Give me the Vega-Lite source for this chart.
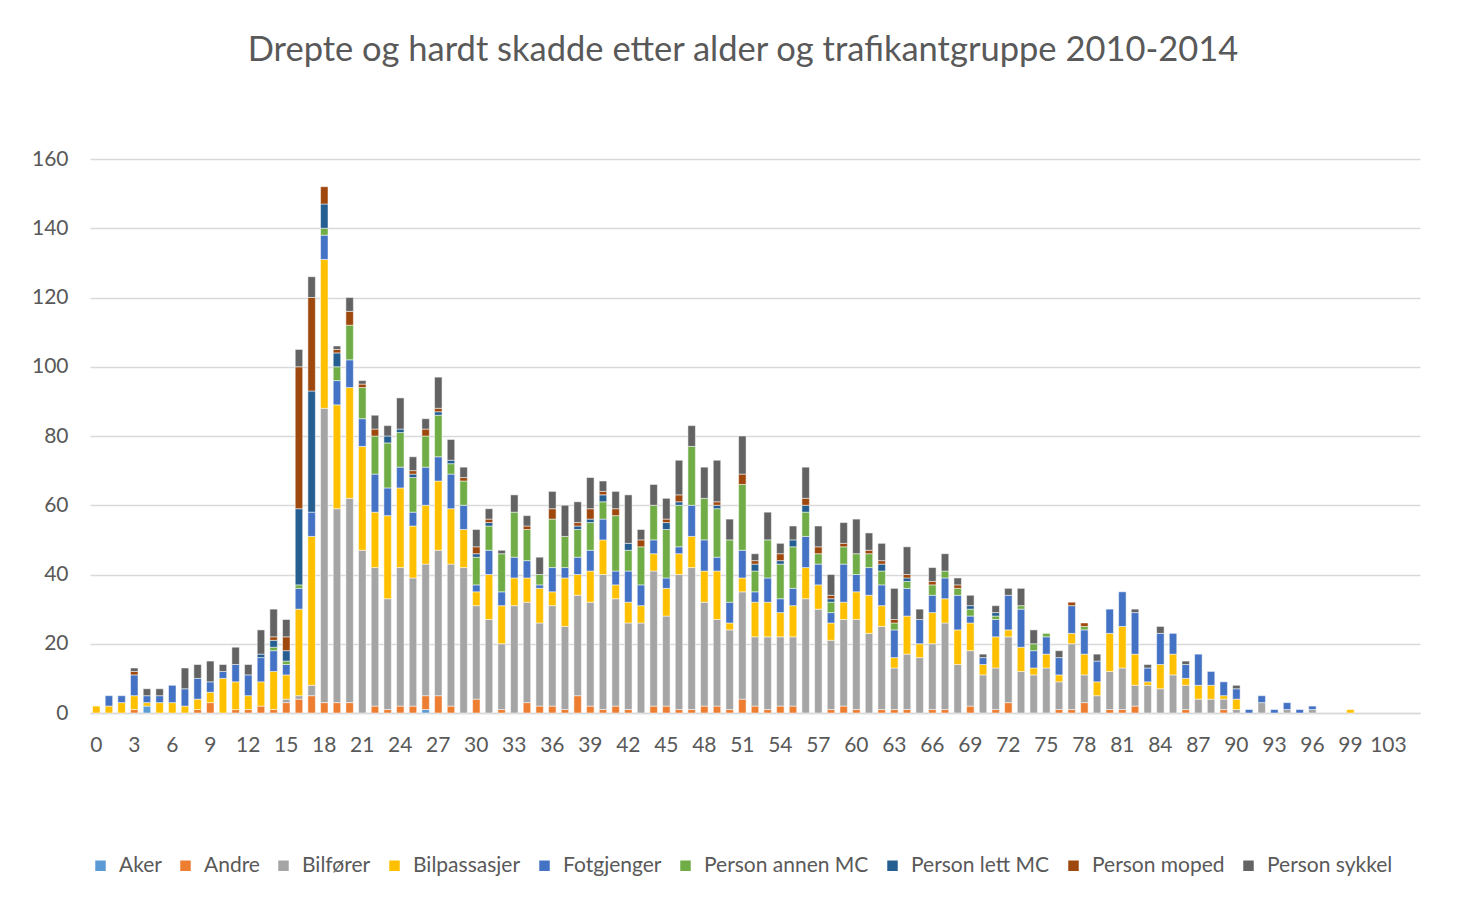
{
  "$schema": "https://vega.github.io/schema/vega-lite/v6.json",
  "width": 1330,
  "height": 554,
  "autosize": {"type": "none"},
  "padding": {"left": 90, "top": 159, "right": 42, "bottom": 185},
  "background": "white",
  "title": {
    "text": "Drepte og hardt skadde etter alder og trafikantgruppe 2010-2014",
    "anchor": "middle",
    "offset": 80,
    "dx": -12,
    "fontSize": 34.5,
    "font": "Lato",
    "fontWeight": "normal",
    "color": "#595959"
  },
  "config": {
    "view": {"stroke": null},
    "font": "Lato",
    "axis": {"labelFont": "Lato", "labelFontSize": 21, "labelColor": "#595959", "ticks": false},
    "legend": {"labelFont": "Lato"}
  },
  "data": {
    "values": [
      {"alder": 0, "Bilpassasjer": 2},
      {"alder": 1, "Bilpassasjer": 2, "Fotgjenger": 3},
      {"alder": 2, "Bilpassasjer": 3, "Fotgjenger": 2},
      {"alder": 3, "Andre": 1, "Bilpassasjer": 4, "Fotgjenger": 6, "Person moped": 1, "Person sykkel": 1},
      {"alder": 4, "Aker": 2, "Bilpassasjer": 1, "Fotgjenger": 2, "Person sykkel": 2},
      {"alder": 5, "Bilpassasjer": 3, "Fotgjenger": 2, "Person sykkel": 2},
      {"alder": 6, "Bilpassasjer": 3, "Fotgjenger": 5},
      {"alder": 7, "Bilpassasjer": 2, "Fotgjenger": 5, "Person sykkel": 6},
      {"alder": 8, "Andre": 1, "Bilpassasjer": 3, "Fotgjenger": 6, "Person sykkel": 4},
      {"alder": 9, "Andre": 3, "Bilpassasjer": 3, "Fotgjenger": 3, "Person sykkel": 6},
      {"alder": 10, "Bilpassasjer": 10, "Fotgjenger": 2, "Person sykkel": 2},
      {"alder": 11, "Andre": 1, "Bilpassasjer": 8, "Fotgjenger": 5, "Person sykkel": 5},
      {"alder": 12, "Andre": 1, "Bilpassasjer": 4, "Fotgjenger": 6, "Person sykkel": 3},
      {"alder": 13, "Andre": 2, "Bilpassasjer": 7, "Fotgjenger": 7, "Person lett MC": 1, "Person sykkel": 7},
      {"alder": 14, "Andre": 1, "Bilpassasjer": 11, "Fotgjenger": 6, "Person annen MC": 1, "Person lett MC": 2, "Person moped": 1, "Person sykkel": 8},
      {"alder": 15, "Andre": 3, "Bilfører": 1, "Bilpassasjer": 7, "Fotgjenger": 3, "Person annen MC": 1, "Person lett MC": 3, "Person moped": 4, "Person sykkel": 5},
      {"alder": 16, "Andre": 4, "Bilfører": 1, "Bilpassasjer": 25, "Fotgjenger": 6, "Person annen MC": 1, "Person lett MC": 22, "Person moped": 41, "Person sykkel": 5},
      {"alder": 17, "Andre": 5, "Bilfører": 3, "Bilpassasjer": 43, "Fotgjenger": 7, "Person lett MC": 35, "Person moped": 27, "Person sykkel": 6},
      {"alder": 18, "Andre": 3, "Bilfører": 85, "Bilpassasjer": 43, "Fotgjenger": 7, "Person annen MC": 2, "Person lett MC": 7, "Person moped": 5},
      {"alder": 19, "Andre": 3, "Bilfører": 56, "Bilpassasjer": 30, "Fotgjenger": 7, "Person annen MC": 4, "Person lett MC": 4, "Person moped": 1, "Person sykkel": 1},
      {"alder": 20, "Andre": 3, "Bilfører": 59, "Bilpassasjer": 32, "Fotgjenger": 8, "Person annen MC": 10, "Person moped": 4, "Person sykkel": 4},
      {"alder": 21, "Bilfører": 47, "Bilpassasjer": 30, "Fotgjenger": 8, "Person annen MC": 9, "Person moped": 1, "Person sykkel": 1},
      {"alder": 22, "Andre": 2, "Bilfører": 40, "Bilpassasjer": 16, "Fotgjenger": 11, "Person annen MC": 11, "Person moped": 2, "Person sykkel": 4},
      {"alder": 23, "Andre": 1, "Bilfører": 32, "Bilpassasjer": 24, "Fotgjenger": 8, "Person annen MC": 13, "Person lett MC": 2, "Person sykkel": 3},
      {"alder": 24, "Andre": 2, "Bilfører": 40, "Bilpassasjer": 23, "Fotgjenger": 6, "Person annen MC": 10, "Person lett MC": 1, "Person sykkel": 9},
      {"alder": 25, "Andre": 2, "Bilfører": 37, "Bilpassasjer": 15, "Fotgjenger": 4, "Person annen MC": 10, "Person lett MC": 1, "Person moped": 1, "Person sykkel": 4},
      {"alder": 26, "Aker": 1, "Andre": 4, "Bilfører": 38, "Bilpassasjer": 17, "Fotgjenger": 11, "Person annen MC": 9, "Person moped": 2, "Person sykkel": 3},
      {"alder": 27, "Andre": 5, "Bilfører": 42, "Bilpassasjer": 20, "Fotgjenger": 7, "Person annen MC": 12, "Person lett MC": 1, "Person moped": 1, "Person sykkel": 9},
      {"alder": 28, "Andre": 2, "Bilfører": 41, "Bilpassasjer": 16, "Fotgjenger": 10, "Person annen MC": 3, "Person lett MC": 1, "Person sykkel": 6},
      {"alder": 29, "Bilfører": 42, "Bilpassasjer": 11, "Fotgjenger": 7, "Person annen MC": 7, "Person moped": 1, "Person sykkel": 3},
      {"alder": 30, "Andre": 4, "Bilfører": 27, "Bilpassasjer": 4, "Fotgjenger": 2, "Person annen MC": 8, "Person lett MC": 1, "Person moped": 2, "Person sykkel": 5},
      {"alder": 31, "Bilfører": 27, "Bilpassasjer": 13, "Fotgjenger": 7, "Person annen MC": 7, "Person lett MC": 1, "Person moped": 1, "Person sykkel": 3},
      {"alder": 32, "Andre": 1, "Bilfører": 19, "Bilpassasjer": 11, "Fotgjenger": 4, "Person annen MC": 11, "Person sykkel": 1},
      {"alder": 33, "Bilfører": 31, "Bilpassasjer": 8, "Fotgjenger": 6, "Person annen MC": 13, "Person sykkel": 5},
      {"alder": 34, "Andre": 3, "Bilfører": 29, "Bilpassasjer": 7, "Fotgjenger": 5, "Person annen MC": 9, "Person moped": 1, "Person sykkel": 3},
      {"alder": 35, "Andre": 2, "Bilfører": 24, "Bilpassasjer": 10, "Fotgjenger": 1, "Person annen MC": 3, "Person sykkel": 5},
      {"alder": 36, "Andre": 2, "Bilfører": 29, "Bilpassasjer": 4, "Fotgjenger": 7, "Person annen MC": 14, "Person moped": 3, "Person sykkel": 5},
      {"alder": 37, "Andre": 1, "Bilfører": 24, "Bilpassasjer": 14, "Fotgjenger": 3, "Person annen MC": 9, "Person sykkel": 9},
      {"alder": 38, "Andre": 5, "Bilfører": 29, "Bilpassasjer": 6, "Fotgjenger": 5, "Person annen MC": 8, "Person lett MC": 1, "Person moped": 1, "Person sykkel": 6},
      {"alder": 39, "Andre": 2, "Bilfører": 30, "Bilpassasjer": 9, "Fotgjenger": 6, "Person annen MC": 8, "Person lett MC": 1, "Person moped": 3, "Person sykkel": 9},
      {"alder": 40, "Andre": 1, "Bilfører": 39, "Bilpassasjer": 10, "Fotgjenger": 6, "Person annen MC": 5, "Person lett MC": 2, "Person moped": 1, "Person sykkel": 3},
      {"alder": 41, "Andre": 2, "Bilfører": 31, "Bilpassasjer": 4, "Fotgjenger": 4, "Person annen MC": 16, "Person moped": 2, "Person sykkel": 5},
      {"alder": 42, "Andre": 1, "Bilfører": 25, "Bilpassasjer": 6, "Fotgjenger": 9, "Person annen MC": 6, "Person lett MC": 2, "Person sykkel": 14},
      {"alder": 43, "Bilfører": 26, "Bilpassasjer": 5, "Fotgjenger": 6, "Person annen MC": 11, "Person moped": 2, "Person sykkel": 3},
      {"alder": 44, "Andre": 2, "Bilfører": 39, "Bilpassasjer": 5, "Fotgjenger": 4, "Person annen MC": 10, "Person sykkel": 6},
      {"alder": 45, "Andre": 2, "Bilfører": 26, "Bilpassasjer": 8, "Fotgjenger": 3, "Person annen MC": 14, "Person lett MC": 2, "Person moped": 1, "Person sykkel": 6},
      {"alder": 46, "Andre": 1, "Bilfører": 39, "Bilpassasjer": 6, "Fotgjenger": 2, "Person annen MC": 12, "Person lett MC": 1, "Person moped": 2, "Person sykkel": 10},
      {"alder": 47, "Andre": 1, "Bilfører": 41, "Bilpassasjer": 9, "Fotgjenger": 9, "Person annen MC": 17, "Person sykkel": 6},
      {"alder": 48, "Andre": 2, "Bilfører": 30, "Bilpassasjer": 9, "Fotgjenger": 9, "Person annen MC": 12, "Person sykkel": 9},
      {"alder": 49, "Andre": 2, "Bilfører": 25, "Bilpassasjer": 14, "Fotgjenger": 4, "Person annen MC": 14, "Person lett MC": 1, "Person moped": 1, "Person sykkel": 12},
      {"alder": 50, "Andre": 1, "Bilfører": 23, "Bilpassasjer": 2, "Fotgjenger": 6, "Person annen MC": 18, "Person sykkel": 6},
      {"alder": 51, "Andre": 4, "Bilfører": 31, "Bilpassasjer": 4, "Fotgjenger": 8, "Person annen MC": 19, "Person moped": 3, "Person sykkel": 11},
      {"alder": 52, "Andre": 2, "Bilfører": 20, "Bilpassasjer": 10, "Fotgjenger": 3, "Person annen MC": 6, "Person lett MC": 2, "Person moped": 1, "Person sykkel": 2},
      {"alder": 53, "Andre": 1, "Bilfører": 21, "Bilpassasjer": 10, "Fotgjenger": 7, "Person annen MC": 11, "Person sykkel": 8},
      {"alder": 54, "Andre": 2, "Bilfører": 20, "Bilpassasjer": 7, "Fotgjenger": 4, "Person annen MC": 10, "Person lett MC": 1, "Person moped": 2, "Person sykkel": 3},
      {"alder": 55, "Andre": 2, "Bilfører": 20, "Bilpassasjer": 9, "Fotgjenger": 5, "Person annen MC": 12, "Person lett MC": 2, "Person sykkel": 4},
      {"alder": 56, "Bilfører": 33, "Bilpassasjer": 9, "Fotgjenger": 9, "Person annen MC": 7, "Person lett MC": 2, "Person moped": 2, "Person sykkel": 9},
      {"alder": 57, "Bilfører": 30, "Bilpassasjer": 7, "Fotgjenger": 6, "Person annen MC": 3, "Person moped": 2, "Person sykkel": 6},
      {"alder": 58, "Andre": 1, "Bilfører": 20, "Bilpassasjer": 5, "Fotgjenger": 3, "Person annen MC": 3, "Person lett MC": 1, "Person moped": 1, "Person sykkel": 6},
      {"alder": 59, "Andre": 2, "Bilfører": 25, "Bilpassasjer": 5, "Fotgjenger": 11, "Person annen MC": 5, "Person moped": 1, "Person sykkel": 6},
      {"alder": 60, "Andre": 1, "Bilfører": 26, "Bilpassasjer": 8, "Fotgjenger": 5, "Person annen MC": 6, "Person sykkel": 10},
      {"alder": 61, "Bilfører": 23, "Bilpassasjer": 11, "Fotgjenger": 8, "Person annen MC": 4, "Person moped": 1, "Person sykkel": 5},
      {"alder": 62, "Andre": 1, "Bilfører": 24, "Bilpassasjer": 6, "Fotgjenger": 6, "Person annen MC": 4, "Person lett MC": 2, "Person moped": 1, "Person sykkel": 5},
      {"alder": 63, "Andre": 1, "Bilfører": 12, "Bilpassasjer": 3, "Fotgjenger": 8, "Person annen MC": 2, "Person moped": 1, "Person sykkel": 9},
      {"alder": 64, "Andre": 1, "Bilfører": 16, "Bilpassasjer": 11, "Fotgjenger": 8, "Person annen MC": 2, "Person lett MC": 1, "Person moped": 1, "Person sykkel": 8},
      {"alder": 65, "Bilfører": 16, "Bilpassasjer": 4, "Fotgjenger": 7, "Person sykkel": 3},
      {"alder": 66, "Andre": 1, "Bilfører": 19, "Bilpassasjer": 9, "Fotgjenger": 5, "Person annen MC": 3, "Person moped": 1, "Person sykkel": 4},
      {"alder": 67, "Andre": 1, "Bilfører": 25, "Bilpassasjer": 7, "Fotgjenger": 6, "Person annen MC": 2, "Person sykkel": 5},
      {"alder": 68, "Bilfører": 14, "Bilpassasjer": 10, "Fotgjenger": 10, "Person annen MC": 2, "Person moped": 1, "Person sykkel": 2},
      {"alder": 69, "Andre": 2, "Bilfører": 16, "Bilpassasjer": 8, "Fotgjenger": 2, "Person annen MC": 2, "Person lett MC": 1, "Person sykkel": 3},
      {"alder": 70, "Bilfører": 11, "Bilpassasjer": 3, "Fotgjenger": 2, "Person sykkel": 1},
      {"alder": 71, "Andre": 1, "Bilfører": 12, "Bilpassasjer": 9, "Fotgjenger": 5, "Person annen MC": 1, "Person lett MC": 1, "Person sykkel": 2},
      {"alder": 72, "Andre": 3, "Bilfører": 19, "Bilpassasjer": 2, "Fotgjenger": 10, "Person sykkel": 2},
      {"alder": 73, "Bilfører": 12, "Bilpassasjer": 7, "Fotgjenger": 11, "Person annen MC": 1, "Person sykkel": 5},
      {"alder": 74, "Bilfører": 11, "Bilpassasjer": 2, "Fotgjenger": 5, "Person annen MC": 2, "Person sykkel": 4},
      {"alder": 75, "Bilfører": 13, "Bilpassasjer": 4, "Fotgjenger": 5, "Person annen MC": 1},
      {"alder": 76, "Andre": 1, "Bilfører": 8, "Bilpassasjer": 2, "Fotgjenger": 5, "Person sykkel": 2},
      {"alder": 77, "Andre": 1, "Bilfører": 19, "Bilpassasjer": 3, "Fotgjenger": 8, "Person moped": 1},
      {"alder": 78, "Andre": 3, "Bilfører": 8, "Bilpassasjer": 6, "Fotgjenger": 7, "Person annen MC": 1, "Person moped": 1},
      {"alder": 79, "Bilfører": 5, "Bilpassasjer": 4, "Fotgjenger": 6, "Person sykkel": 2},
      {"alder": 80, "Andre": 1, "Bilfører": 11, "Bilpassasjer": 11, "Fotgjenger": 7},
      {"alder": 81, "Andre": 1, "Bilfører": 12, "Bilpassasjer": 12, "Fotgjenger": 10},
      {"alder": 82, "Andre": 2, "Bilfører": 6, "Bilpassasjer": 9, "Fotgjenger": 12, "Person sykkel": 1},
      {"alder": 83, "Bilfører": 8, "Bilpassasjer": 1, "Fotgjenger": 4, "Person sykkel": 1},
      {"alder": 84, "Bilfører": 7, "Bilpassasjer": 7, "Fotgjenger": 9, "Person sykkel": 2},
      {"alder": 85, "Bilfører": 11, "Bilpassasjer": 6, "Fotgjenger": 6},
      {"alder": 86, "Andre": 1, "Bilfører": 7, "Bilpassasjer": 2, "Fotgjenger": 4, "Person sykkel": 1},
      {"alder": 87, "Bilfører": 4, "Bilpassasjer": 4, "Fotgjenger": 9},
      {"alder": 88, "Bilfører": 4, "Bilpassasjer": 4, "Fotgjenger": 4},
      {"alder": 89, "Andre": 1, "Bilfører": 3, "Bilpassasjer": 1, "Fotgjenger": 4},
      {"alder": 90, "Bilfører": 1, "Bilpassasjer": 3, "Fotgjenger": 3, "Person sykkel": 1},
      {"alder": 91, "Fotgjenger": 1},
      {"alder": 92, "Bilfører": 3, "Fotgjenger": 2},
      {"alder": 93, "Fotgjenger": 1},
      {"alder": 94, "Bilfører": 1, "Fotgjenger": 2},
      {"alder": 95, "Fotgjenger": 1},
      {"alder": 96, "Bilfører": 1, "Fotgjenger": 1},
      {"alder": 99, "Bilpassasjer": 1}
    ]
  },
  "transform": [
    {"fold": ["Aker", "Andre", "Bilfører", "Bilpassasjer", "Fotgjenger", "Person annen MC", "Person lett MC", "Person moped", "Person sykkel"], "as": ["gruppe", "antall"]},
    {"filter": "datum.antall > 0"}
  ],
  "mark": {"type": "bar", "stroke": "#ffffff", "strokeWidth": 0.5},
  "encoding": {
    "x": {
      "field": "alder",
      "type": "ordinal",
      "scale": {
        "domain": [0,1,2,3,4,5,6,7,8,9,10,11,12,13,14,15,16,17,18,19,20,21,22,23,24,25,26,27,28,29,30,31,32,33,34,35,36,37,38,39,40,41,42,43,44,45,46,47,48,49,50,51,52,53,54,55,56,57,58,59,60,61,62,63,64,65,66,67,68,69,70,71,72,73,74,75,76,77,78,79,80,81,82,83,84,85,86,87,88,89,90,91,92,93,94,95,96,97,98,99,100,101,103,104,105],
        "paddingInner": 0.41,
        "paddingOuter": 0.2
      },
      "axis": {
        "title": null,
        "values": [0,3,6,9,12,15,18,21,24,27,30,33,36,39,42,45,48,51,54,57,60,63,66,69,72,75,78,81,84,87,90,93,96,99,103],
        "labelAngle": 0,
        "labelPadding": 21,
        "domainColor": "#D9D9D9",
        "domainWidth": 1.5,
        "grid": false
      }
    },
    "y": {
      "field": "antall",
      "type": "quantitative",
      "stack": "zero",
      "scale": {"domain": [0, 160]},
      "axis": {
        "title": null,
        "values": [0,20,40,60,80,100,120,140,160],
        "domain": false,
        "labelPadding": 22,
        "gridColor": "#D9D9D9",
        "gridWidth": 1.5
      }
    },
    "color": {
      "field": "gruppe",
      "type": "nominal",
      "scale": {
        "domain": ["Aker", "Andre", "Bilfører", "Bilpassasjer", "Fotgjenger", "Person annen MC", "Person lett MC", "Person moped", "Person sykkel"],
        "range": ["#5B9BD5", "#ED7D31", "#A5A5A5", "#FFC000", "#4472C4", "#70AD47", "#255E91", "#9E480E", "#636363"]
      },
      "legend": {
        "title": null,
        "orient": "bottom",
        "direction": "horizontal",
        "offset": 100,
        "symbolType": "square",
        "symbolSize": 110,
        "symbolStrokeWidth": 0,
        "labelFontSize": 21,
        "labelLimit": 0,
        "labelColor": "#595959",
        "labelOffset": 8,
        "columnPadding": 13
      }
    },
    "order": {"field": "gruppe", "type": "ordinal", "sort": "ascending"}
  }
}
